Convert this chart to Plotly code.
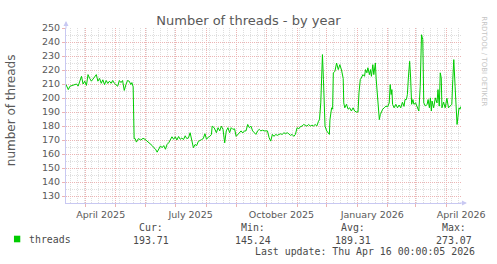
import pandas as pd
import plotly.graph_objects as go

# ---- data -------------------------------------------------------------
start = pd.Timestamp("2025-03-12")
end = pd.Timestamp("2026-04-16")

# days since start of the graph window
day_offset = [
    0, 2.3, 4, 7.3, 10.7, 12.3, 14, 15.7, 17.3, 19,
    20.7, 22.3, 24, 25.7, 27.3, 29, 30.7, 32.3, 34, 35.7,
    37.3, 39, 40.7, 42.3, 44, 45.7, 47.3, 49, 50.7, 52.3,
    54, 55.7, 57.3, 59, 60.7, 62.3, 64, 65.7, 66.7, 68,
    69, 70, 71.3, 73.3, 75.7, 78, 80, 82.3, 84, 85.7,
    87.3, 89, 90.7, 92.3, 94, 95.7, 97.3, 99, 100.7, 102.3,
    104, 105.7, 107.3, 109, 110.7, 112.3, 114, 115.7, 117.3, 119,
    120.7, 122.3, 124, 125.7, 127.3, 129, 130.7, 132.3, 134, 135.7,
    137.3, 139, 140.7, 142.3,
    144, 145.7, 147.3, 148, 150, 152.3, 154, 155.7, 157.3, 159,
    160.7, 162.3, 164, 165.7, 167.3, 169, 170.7, 172.3, 174, 175.7,
    177.3, 179, 180.7, 182.3, 184, 185.7, 187.3, 189, 190.7, 192.3,
    194, 195.7, 197.3, 199, 200.7, 202.3, 204, 205.7, 207.3, 209,
    210.7, 212.3, 214, 215.7, 217.3, 219, 220.7, 222.3, 224, 225.7,
    227.3, 229, 230.7, 232.3, 234, 235.7, 237.3, 239, 240.7, 242.3,
    244, 245.7, 247.3, 249, 250.7, 252.3, 254, 255.7, 256.7, 258,
    259, 259.7, 260.7, 261.3, 262.3, 264, 265.7, 266.7, 267.3, 268.3,
    269, 270, 270.7, 272.3,
    274, 275.7, 277.3, 279, 280.7, 281.3, 282.3, 284, 285.7, 287.3,
    289, 290.7, 292.3, 294, 295.7, 296.7, 298, 299, 300.7, 302.3,
    303.3, 304.7, 305.7, 307.3, 308.3, 309.3, 310.7, 311.7, 312.7, 313.3,
    314, 315.7, 316.7, 317.3, 318.3, 319.7, 320.7, 322.3, 324, 325.7,
    327.3, 328.3, 329.3, 330, 330.7, 332.3, 334, 335.7, 337.3, 339,
    340.7, 342.3, 343.3, 344.7, 345.7, 346.7, 348, 349, 350, 351.3,
    352.3, 354, 355.7, 357.3, 358.7, 360, 361.3, 362.3, 364, 365.7,
    366.7, 368, 369, 370, 370.7, 372.3, 374, 375.7, 376.7, 378,
    379, 380, 380.7, 382.3, 384, 385.7, 387.3, 389, 390.7, 391.7,
    392.7, 394, 395, 396, 397, 398, 399, 400,
]

threads = [
    209.6, 206, 208.4, 209, 210, 208.5, 212, 215.5, 210, 212,
    209, 216.7, 214, 212, 213.5, 215.5, 216.7, 212, 214, 210.5,
    213, 209.6, 212.5, 210.4, 212, 210.5, 212.5, 210.5, 209.6, 208.4,
    212.5, 211, 212.5, 205.4, 209.6, 212.5, 212, 209.6, 211, 208,
    171, 171, 168.5, 171, 170, 171.2, 170.5, 169, 168.5, 166.8,
    166, 164.5, 163.4, 161.3, 163.4, 165.8, 164.5, 166, 163.4, 166.8,
    168, 170, 172.3, 170.5, 172.3, 170, 172.5, 170.5, 171.4, 170.3,
    173, 171, 171.5, 175.2, 170.3, 164.5, 166.8, 166, 169, 170,
    170.3, 171, 174.5, 170.5,
    172, 172.6, 174, 179.9, 178.8, 175.2, 178.8, 176.5, 179.9, 177.6,
    168, 176.5, 178.8, 175.2, 178.8, 177.6, 178, 172.6, 174, 175.2,
    176.5, 175, 176.5, 176.5, 181.1, 178.8, 179.9, 176.5, 175.2, 174,
    176.5, 177.6, 176.5, 177, 176.5, 176.5, 176.5, 171.6, 169.2, 174,
    172.6, 174, 173.3, 174, 174.4, 174, 175.2, 174.5, 175.2, 174.4,
    173.3, 174, 172.6, 174, 178.8, 178, 179.5, 179.9, 181.1, 180.5,
    179.9, 181.1, 180, 180.5, 180, 181.1, 180, 183.4, 184.6, 196.5,
    220.3, 231, 213.2, 194, 179.9, 176.5, 175.2, 174, 184.6, 190.5,
    193, 192, 218, 219,
    225, 220.3, 223.8, 220, 214, 196.5, 193, 195.5, 192, 193,
    190.7, 193, 190.7, 190, 190, 203.7, 213.2, 214.3, 216.7, 215.5,
    220.3, 218, 221.6, 216.7, 220.3, 215.5, 223.8, 216.7, 221.6, 225,
    214.3, 195.5, 190.7, 184.6, 188.1, 190.7, 192, 193, 194.2, 193.7,
    196.5, 209.6, 202.5, 206, 195.5, 193, 195.5, 193, 195, 193,
    197, 194, 198.9, 198.9, 202.5, 214.3, 226.2, 214.3, 195.5, 198.9,
    195.5, 196.5, 193, 190.7, 208.4, 245.2, 241.7, 196.5, 194.2, 195.5,
    198.9, 193, 200.1, 190.7, 197.8, 193, 200.1, 196.5, 206, 194.2,
    218, 214.3, 193, 197, 193, 199.9, 193, 194.2, 195.5, 213.2,
    227.4, 208.4, 192, 181.1, 187, 193, 192, 194,
]

month_ticks = pd.date_range("2025-04-01", "2026-04-01", freq="MS")
month_labels = ["April 2025", "", "", "July 2025", "", "", "October 2025",
                "", "", "January 2026", "", "", "April 2026"]
y_ticks = list(range(130, 251, 10))

stat_names = ["Cur:", "Min:", "Avg:", "Max:"]
stat_values = ["193.71", "145.24", "189.31", "273.07"]
series_name = "threads"
last_update = "Last update: Thu Apr 16 00:00:05 2026"

# ---- style ------------------------------------------------------------
W, H = 497, 264
L, R, T, B = 66, 31, 28, 61
PW, PH = W - L - R, H - T - B
GREEN = "#00cc00"
MGRID = "#ecb4b4"
GRID = "#dedede"
AXIS = "#c8c8f2"
TXT = "#595959"


def px(xp):
    return (xp - L) / PW


def py(yp):
    return (H - B - yp) / PH


dates = start + pd.to_timedelta(day_offset, unit="D")

fig = go.Figure()
fig.add_trace(go.Scatter(x=dates, y=threads, mode="lines",
                         line=dict(color=GREEN, width=1),
                         showlegend=False, hoverinfo="skip"))

tickfont = dict(family="DejaVu Sans", size=9.5, color=TXT)

fig.update_layout(
    width=W, height=H,
    margin=dict(l=L, r=R, t=T, b=B, pad=0),
    paper_bgcolor="white", plot_bgcolor="white",
    showlegend=False,
    title=dict(text="Number of threads - by year", x=0.5, xref="container",
               xanchor="center", y=1 - 20 / H, yref="container",
               yanchor="middle",
               font=dict(family="DejaVu Sans", size=13, color=TXT)),
    xaxis=dict(
        range=[start, end], tickmode="array", tickvals=month_ticks,
        ticktext=month_labels, ticklabelshift=15,
        showgrid=True, gridcolor=MGRID, griddash="1px,1px", gridwidth=1,
        ticks="outside", ticklen=3, tickcolor=MGRID, tickwidth=1,
        showline=True, linecolor=AXIS, linewidth=1, zeroline=False,
        tickfont=tickfont,
        minor=dict(tickmode="linear", tick0="2025-03-17",
                   dtick=7 * 86400000, showgrid=True, gridcolor=GRID,
                   griddash="1px,1px", gridwidth=1, ticks=""),
    ),
    yaxis=dict(
        range=[125, 250], tickmode="array", tickvals=y_ticks,
        showgrid=True, gridcolor=MGRID, griddash="1px,1px", gridwidth=1,
        ticks="outside", ticklen=3, tickcolor=MGRID, tickwidth=1,
        showline=True, linecolor=AXIS, linewidth=1, zeroline=False,
        tickfont=tickfont,
        minor=dict(tickmode="linear", tick0=125, dtick=5, showgrid=True,
                   gridcolor=GRID, griddash="1px,1px", gridwidth=1,
                   ticks=""),
    ),
)

ann = []
# axis arrows
ann.append(dict(x=0, y=1 + 7 / PH, xref="paper", yref="paper", text="",
                showarrow=True, ax=0, ay=9, arrowhead=2, arrowsize=1,
                arrowwidth=1, arrowcolor=AXIS))
ann.append(dict(x=1 + 6 / PW, y=0, xref="paper", yref="paper", text="",
                showarrow=True, ax=-9, ay=0, arrowhead=2, arrowsize=1,
                arrowwidth=1, arrowcolor=AXIS))
# y axis title
ann.append(dict(x=px(10.5), y=py(110), xref="paper", yref="paper",
                text="number of threads", textangle=-90, showarrow=False,
                xanchor="center", yanchor="middle",
                font=dict(family="DejaVu Sans", size=12, color=TXT)))
# watermark
ann.append(dict(x=px(489), y=py(61), xref="paper", yref="paper",
                text="RRDTOOL / TOBI OETIKER", textangle=90, showarrow=False,
                xanchor="center", yanchor="middle",
                font=dict(family="DejaVu Sans", size=7, color="#c4c4c4")))
mono = dict(family="DejaVu Sans Mono", size=9.9, color="#4a4a4a")
ann.append(dict(x=px(26.7), y=py(239.5), xref="paper", yref="paper",
                text=series_name, showarrow=False, xanchor="left",
                yanchor="middle", font=mono))
stat_x = [152, 255, 356.5, 458.5]
for name, val, sx in zip(stat_names, stat_values, stat_x):
    ann.append(dict(x=px(sx), y=py(227.5), xref="paper", yref="paper",
                    text=name, showarrow=False, xanchor="center",
                    yanchor="middle", font=mono))
    ann.append(dict(x=px(sx), y=py(240), xref="paper", yref="paper",
                    text=val, showarrow=False, xanchor="center",
                    yanchor="middle", font=mono))
ann.append(dict(x=px(482), y=py(251), xref="paper", yref="paper",
                text=last_update, showarrow=False, xanchor="right",
                yanchor="middle", font=mono))
fig.update_layout(annotations=ann)

fig.add_shape(type="rect", xref="paper", yref="paper",
              x0=px(13.3), x1=px(19.7), y0=py(242.3), y1=py(235.7),
              fillcolor=GREEN, line=dict(width=0))

fig.write_html("out.html")
